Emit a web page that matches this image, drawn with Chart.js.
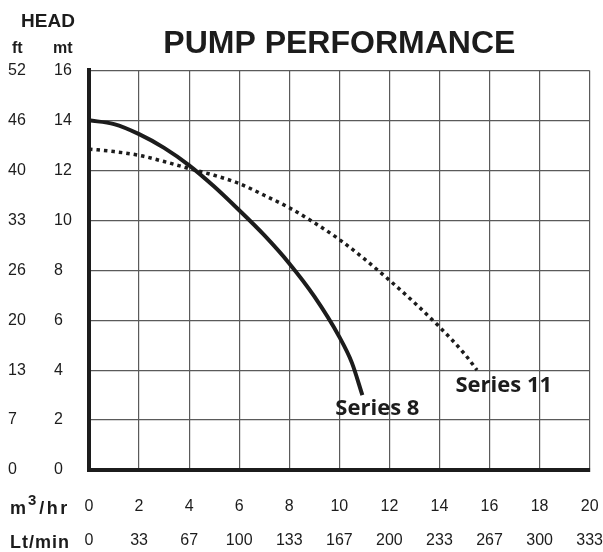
<!DOCTYPE html>
<html>
<head>
<meta charset="utf-8">
<script src="https://cdn.jsdelivr.net/npm/chart.js@4.4.0/dist/chart.umd.min.js"></script>
<style>
  body { margin: 0; background: #fff; }
  canvas { display: block; }
</style>
</head>
<body>
<canvas id="pumpChart" width="603" height="552"></canvas>
<script>
"use strict";

// flow in m3/hr, head in mt
const series8Flow = [0, 1, 2, 3, 4, 5, 6, 7, 8, 9, 10, 10.5, 10.92];
const series8Head = [14, 13.85, 13.45, 12.9, 12.2, 11.35, 10.4, 9.4, 8.27, 6.95, 5.33, 4.3, 3.0];

const series11Flow = [0, 1, 2, 3, 4, 5, 6, 7, 8, 9, 10, 11, 12, 13, 14, 15, 15.5];
const series11Head = [12.85, 12.75, 12.6, 12.35, 12.07, 11.8, 11.47, 11.0, 10.5, 9.9, 9.23, 8.45, 7.6, 6.7, 5.73, 4.65, 4.0];

// tick labels
const ftLabels = ['0', '7', '13', '20', '26', '33', '40', '46', '52'];
const ltMinLabels = ['0', '33', '67', '100', '133', '167', '200', '233', '267', '300', '333'];

const seriesNames = ['Series 8', 'Series 11'];

function toPoints(xs, ys) {
    return xs.map(function (x, i) { return { x: x, y: ys[i] }; });
}

const ink = '#1c1c1c';
const gridColor = '#5a5a5a';

// extra text: head header, row captions and curve names
const textPlugin = {
    id: 'extraText',
    afterDraw(chart) {
        const c = chart.ctx;
        const xs = chart.scales.x;
        const ys = chart.scales.y;
        c.save();
        c.fillStyle = ink;
        c.textBaseline = 'alphabetic';

        c.font = 'bold 19px "Liberation Sans"';
        c.textAlign = 'center';
        c.fillText('HEAD', 48, 27);

        c.font = 'bold 16px "Liberation Sans"';
        c.textAlign = 'left';
        c.fillText('ft', 12, 53);
        c.fillText('mt', 53, 53);

        // m3/hr with raised 3
        c.letterSpacing = '1px';
        c.font = 'bold 18px "Liberation Sans"';
        c.fillText('m', 10, 514);
        let w = c.measureText('m').width;
        c.font = 'bold 15px "Liberation Sans"';
        c.fillText('3', 10 + w + 1, 505);
        let w3 = c.measureText('3').width;
        c.font = 'bold 18px "Liberation Sans"';
        c.letterSpacing = '2.5px';
        c.fillText('/hr', 10 + w + w3 + 3, 514);

        c.letterSpacing = '1px';
        c.font = 'bold 18px "Liberation Sans"';
        c.fillText('Lt/min', 10, 548);

        // curve names
        c.letterSpacing = '0px';
        c.font = 'bold 22px "Open Sans"';
        c.fillText(seriesNames[0], xs.getPixelForValue(9.84), ys.getPixelForValue(2.2));
        c.fillText(seriesNames[1], xs.getPixelForValue(14.64), ys.getPixelForValue(3.12));
        c.restore();
    }
};

const ctx = document.getElementById('pumpChart');
const pumpChart = new Chart(ctx, {
    type: 'line',
    data: {
        datasets: [
            {
                label: seriesNames[0],
                data: toPoints(series8Flow, series8Head),
                borderColor: ink,
                borderWidth: 4,
                pointRadius: 0,
                cubicInterpolationMode: 'monotone',
                xAxisID: 'x',
                yAxisID: 'y'
            },
            {
                label: seriesNames[1],
                data: toPoints(series11Flow, series11Head),
                borderColor: ink,
                borderWidth: 3.5,
                borderDash: [3.5, 4],
                borderCapStyle: 'butt',
                pointRadius: 0,
                cubicInterpolationMode: 'monotone',
                xAxisID: 'x',
                yAxisID: 'y'
            }
        ]
    },
    options: {
        responsive: false,
        animation: false,
        devicePixelRatio: 1,
        layout: {
            padding: { left: 8, right: 0, top: 0, bottom: 0 }
        },
        plugins: {
            legend: { display: false },
            tooltip: { enabled: false },
            title: {
                display: true,
                text: 'PUMP PERFORMANCE',
                fullSize: false,
                color: ink,
                font: { family: 'Liberation Sans', weight: 'bold', size: 32 },
                padding: { top: 25, bottom: 7 }
            }
        },
        scales: {
            x: {
                type: 'linear',
                position: 'bottom',
                min: 0,
                max: 20,
                weight: 0,
                ticks: {
                    stepSize: 2,
                    padding: 0,
                    color: ink,
                    font: { family: 'Liberation Sans', size: 16 }
                },
                // invisible tick marks push the labels down without widening the side padding
                grid: { color: gridColor, lineWidth: 1.2, drawTicks: true, tickLength: 27, tickColor: 'rgba(0,0,0,0)' },
                border: { color: ink, width: 4 },
                afterFit: function (scale) { scale.height = 52; }
            },
            xLt: {
                type: 'linear',
                position: 'bottom',
                min: 0,
                max: 20,
                weight: 1,
                ticks: {
                    stepSize: 2,
                    padding: 0,
                    color: ink,
                    font: { family: 'Liberation Sans', size: 16 },
                    callback: function (value, index) { return ltMinLabels[index]; }
                },
                grid: { display: true, drawOnChartArea: false, color: 'rgba(0,0,0,0)', drawTicks: true, tickLength: 9, tickColor: 'rgba(0,0,0,0)' },
                border: { display: false },
                afterFit: function (scale) { scale.height = 30; }
            },
            y: {
                type: 'linear',
                position: 'left',
                min: 0,
                max: 16,
                weight: 0,
                ticks: {
                    stepSize: 2,
                    padding: 0,
                    crossAlign: 'far',
                    color: ink,
                    font: { family: 'Liberation Sans', size: 16 }
                },
                grid: { color: gridColor, lineWidth: 1.2, drawTicks: false },
                border: { color: ink, width: 4 },
                afterFit: function (scale) { scale.width = 35; }
            },
            yFt: {
                type: 'linear',
                position: 'left',
                min: 0,
                max: 16,
                weight: 1,
                ticks: {
                    stepSize: 2,
                    padding: 0,
                    crossAlign: 'far',
                    color: ink,
                    font: { family: 'Liberation Sans', size: 16 },
                    callback: function (value, index) { return ftLabels[index]; }
                },
                grid: { display: false, drawTicks: false },
                border: { display: false },
                afterFit: function (scale) { scale.width = 46; }
            }
        }
    },
    plugins: [textPlugin]
});
</script>
</body>
</html>
